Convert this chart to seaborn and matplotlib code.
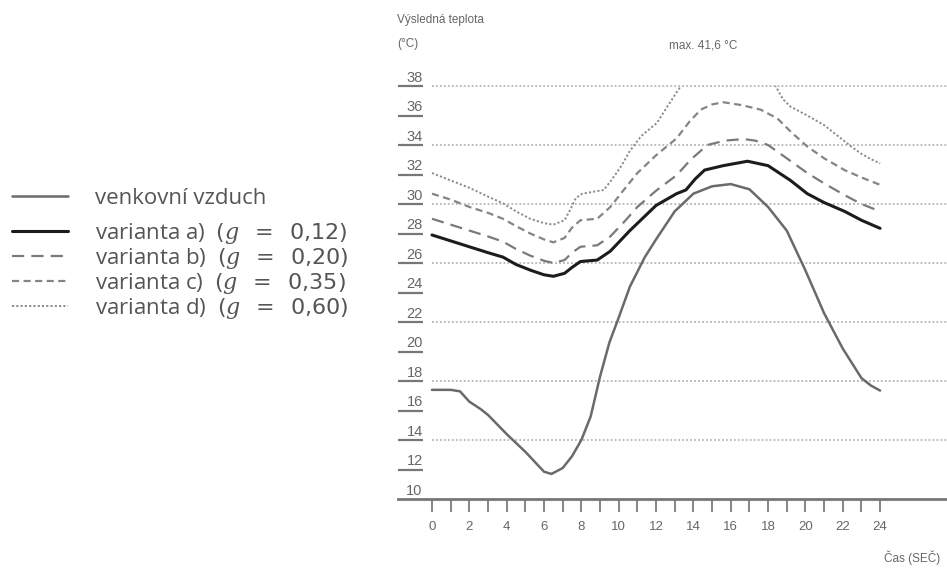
import numpy as np
import pandas as pd
import matplotlib
matplotlib.use("Agg")
import matplotlib.pyplot as plt
import seaborn as sns

# ---------------- data ----------------
hours_out = [0, 1, 1.5, 2, 2.6, 3, 4, 5, 6, 6.4, 7, 7.5, 8, 8.5, 9, 9.5, 10, 10.6, 11.4,
             12, 13, 14, 15, 16, 17, 18, 19, 20, 21, 22, 23, 23.5, 24]
temp_out = [17.4, 17.4, 17.3, 16.6, 16.1, 15.7, 14.4, 13.2, 11.85, 11.7, 12.1, 12.9, 14.0,
            15.6, 18.3, 20.6, 22.3, 24.4, 26.4, 27.6, 29.5, 30.7, 31.2, 31.35, 31.0, 29.8,
            28.2, 25.5, 22.6, 20.2, 18.2, 17.7, 17.35]

hours_a = [0, 1, 2, 3, 3.8, 4.5, 5.3, 6, 6.5, 7.1, 7.5, 7.95, 8.85, 9.55, 10.6, 12, 13.1,
           13.6, 14.1, 14.6, 15.6, 16.9, 18, 19.2, 20.1, 21, 22.1, 23, 24]
temp_a = [27.9, 27.5, 27.1, 26.7, 26.4, 25.9, 25.5, 25.2, 25.1, 25.3, 25.7, 26.1, 26.2, 26.8,
          28.2, 29.9, 30.7, 30.95, 31.7, 32.3, 32.6, 32.9, 32.6, 31.6, 30.7, 30.1, 29.5,
          28.9, 28.35]

hours_b = [0, 1, 2, 3, 3.8, 4.5, 5.26, 6, 6.5, 7.1, 7.5, 7.95, 8.85, 9.55, 10.3, 11, 12,
           13.1, 13.85, 14.75, 15.7, 16.7, 17.3, 18, 19, 20.1, 21, 22.1, 23, 24]
temp_b = [29.0, 28.6, 28.2, 27.8, 27.45, 26.95, 26.5, 26.15, 26.0, 26.2, 26.7, 27.1, 27.2,
          27.8, 28.8, 29.8, 30.9, 31.95, 33.0, 34.0, 34.3, 34.4, 34.3, 34.0, 33.1, 32.1,
          31.4, 30.6, 30.0, 29.5]

hours_c = [0, 1, 2, 3, 3.8, 4.5, 5.26, 6, 6.5, 7.1, 7.5, 7.95, 8.85, 9.55, 10.3, 11, 12,
           13.1, 13.8, 14.4, 15, 15.6, 16.6, 17.6, 18.5, 19.3, 20.1, 21, 22.1, 23, 24]
temp_c = [30.7, 30.3, 29.8, 29.4, 29.0, 28.5, 28.0, 27.6, 27.4, 27.7, 28.4, 28.9, 29.0,
          29.8, 31.0, 32.1, 33.3, 34.45, 35.6, 36.4, 36.75, 36.9, 36.7, 36.4, 35.8, 34.8,
          33.9, 33.1, 32.3, 31.8, 31.3]

hours_d = [0, 1, 2, 3, 3.8, 4.5, 5.26, 6, 6.5, 7.1, 7.4, 7.7, 8.05, 9.2, 9.6, 10.1, 10.6,
           11.2, 12.05, 12.6, 13.3, 14, 15, 16, 17, 18, 18.4, 18.8, 19.2, 20.1, 21, 22.45,
           23, 23.5, 24]
temp_d = [32.1, 31.6, 31.1, 30.5, 30.05, 29.5, 29.0, 28.7, 28.6, 28.9, 29.6, 30.4, 30.7,
          30.95, 31.6, 32.5, 33.6, 34.6, 35.5, 36.6, 37.95, 39.5, 40.9, 41.6, 41.0, 39.0,
          38.0, 37.1, 36.6, 36.0, 35.35, 33.9, 33.4, 33.05, 32.75]

series_names = ["venkovní vzduch",
                r"varianta a)  $(g\;\;=\;\;0{,}12)$",
                r"varianta b)  $(g\;\;=\;\;0{,}20)$",
                r"varianta c)  $(g\;\;=\;\;0{,}35)$",
                r"varianta d)  $(g\;\;=\;\;0{,}60)$"]

y_tick_values = [10, 12, 14, 16, 18, 20, 22, 24, 26, 28, 30, 32, 34, 36, 38]
grid_values = [14, 18, 22, 26, 30, 34, 38]
x_tick_values = list(range(25))
x_tick_labels = [str(h) if h % 2 == 0 else "" for h in x_tick_values]

max_label = "max. 41,6 °C"
y_title = "Výsledná teplota\n(°C)"
x_title = "Čas (SEČ)"

# ---------------- long table ----------------
frames = []
for name, hs, ts in zip(series_names,
                        [hours_out, hours_a, hours_b, hours_c, hours_d],
                        [temp_out, temp_a, temp_b, temp_c, temp_d]):
    frames.append(pd.DataFrame({"hodina": hs, "teplota": ts, "serie": name}))
df = pd.concat(frames, ignore_index=True)

# ---------------- style ----------------
sns.set_theme(style="white")
plt.rcParams["font.family"] = ["Liberation Sans", "DejaVu Sans"]
plt.rcParams["mathtext.fontset"] = "custom"
plt.rcParams["mathtext.rm"] = "DejaVu Sans"
plt.rcParams["mathtext.it"] = "DejaVu Serif:italic"

palette = dict(zip(series_names, ["#6a6a6a", "#1c1c1c", "#7a7a7a", "#858585", "#8c8c8c"]))
dashes = dict(zip(series_names, ["", "", (5.5, 3.2), (3.2, 2.0), (1.1, 1.1)]))
sizes = dict(zip(series_names, [1.8, 2.2, 1.6, 1.6, 1.4]))

fig = plt.figure(figsize=(9.47, 5.68), dpi=100)
# x: h=0 at 432 px, 18.67 px per hour; y: 10 at 499 px, 38 at 86 px
ax = fig.add_axes([398 / 947, 1 - 499 / 568, 549 / 947, 413 / 568])

sns.lineplot(data=df, x="hodina", y="teplota", hue="serie", style="serie", size="serie",
             palette=palette, dashes=dashes, sizes=sizes, hue_order=series_names,
             style_order=series_names, size_order=series_names, sort=False,
             estimator=None, legend="full", ax=ax)

ax.set_xlim(-34 / 18.67, 515 / 18.67)
ax.set_ylim(10, 38)
x_right = 515 / 18.67

# dotted grid lines
ax.hlines(grid_values, 0, x_right, colors="#b5b5b5", linestyles=(0, (1, 1.2)),
          linewidth=1.3, clip_on=False, zorder=0)

# y labels with short underlines
text_gray = "#666666"
ax.hlines(y_tick_values[1:], -34 / 18.67, -0.48, colors="#777777", linewidth=1.6,
          clip_on=False)
for v in y_tick_values:
    ax.text(-0.5, v + 0.08, str(v), ha="right", va="bottom", fontsize=10.5,
            color=text_gray, clip_on=False)
ax.set_yticks([])
ax.set_ylabel("")
ax.set_xlabel("")

ax.set_xticks(x_tick_values)
ax.set_xticklabels(x_tick_labels)
ax.tick_params(axis="x", direction="out", length=9.5, width=1.5, colors="#8a8a8a",
               labelcolor=text_gray, labelsize=9.5, pad=6.5, bottom=True)

for s in ["left", "top", "right"]:
    ax.spines[s].set_visible(False)
ax.spines["bottom"].set_color("#777777")
ax.spines["bottom"].set_linewidth(2)

# texts
fig.text(397 / 947, 1 - 14 / 568, y_title, ha="left", va="top", fontsize=8.5,
         color=text_gray, linespacing=2.3)
fig.text(703 / 947, 1 - 45 / 568, max_label, ha="center", va="center", fontsize=8.5,
         color=text_gray)
fig.text(940 / 947, 1 - 558 / 568, x_title, ha="right", va="center", fontsize=8.5,
         color=text_gray)

# legend on the left (outdoor air separated a bit from the variants)
handles, labels = ax.get_legend_handles_labels()
ax.get_legend().remove()
leg_kw = dict(loc="center left", frameon=False, handlelength=2.5, handletextpad=1.25,
              labelspacing=0.0, borderpad=0.0,
              prop={"family": ["Open Sans", "DejaVu Sans"], "size": 16})
leg1 = fig.legend(handles[:1], labels[:1], bbox_to_anchor=(1 / 947, 1 - 198 / 568), **leg_kw)
leg2 = fig.legend(handles[1:], labels[1:], bbox_to_anchor=(1 / 947, 1 - 271 / 568), **leg_kw)
for lg in (leg1, leg2):
    for t in lg.get_texts():
        t.set_color("#555555")

fig.savefig("out.png", dpi=100)
